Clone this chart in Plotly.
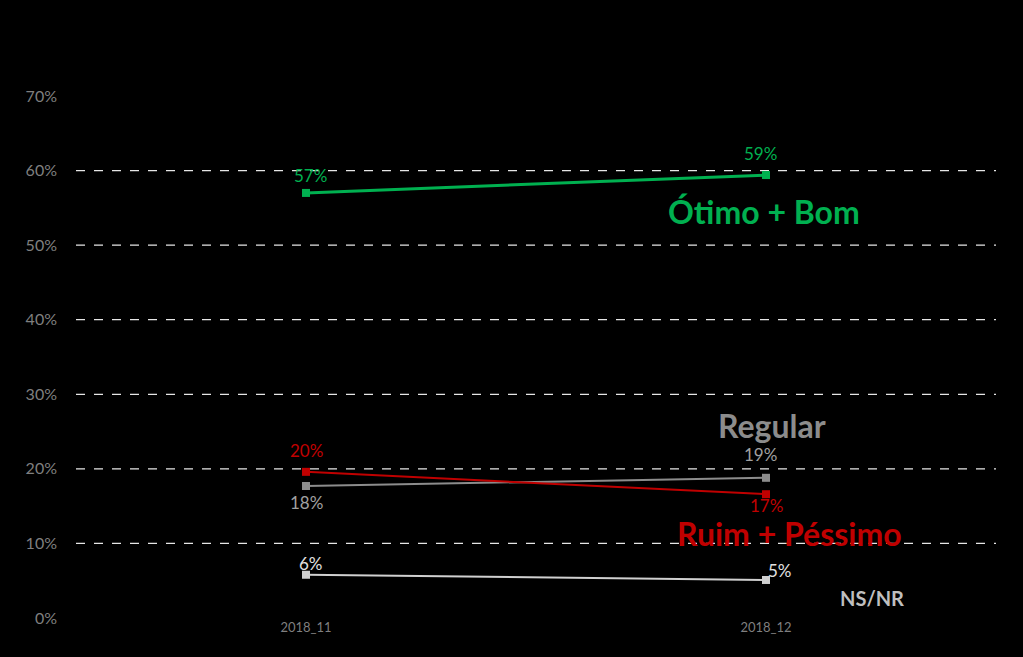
import plotly.graph_objects as go

categories = ["2018_11", "2018_12"]
otimo_bom = [57.0, 59.4]
ruim_pessimo = [19.6, 16.6]
regular = [17.7, 18.8]
ns_nr = [5.8, 5.1]
y_ticks = [0, 10, 20, 30, 40, 50, 60, 70]
grid_vals = [10, 20, 30, 40, 50, 60]

FONT = "Lato"
GREEN = "#00B050"
RED = "#C00000"
GRAY = "#8C8C8C"
LGRAY = "#D0D0D0"

fig = go.Figure()

series = [
    ("Regular", regular, GRAY, 2),
    ("NS/NR", ns_nr, LGRAY, 2),
    ("Ruim + Péssimo", ruim_pessimo, RED, 2),
    ("Ótimo + Bom", otimo_bom, GREEN, 3),
]
for name, vals, col, w in series:
    fig.add_trace(go.Scatter(
        x=categories, y=vals, mode="lines+markers", name=name,
        line=dict(color=col, width=w),
        marker=dict(symbol="square", size=8, color=col),
        showlegend=False, hoverinfo="skip"))

# data labels: (series values, color, per-point (yshift, xshift))
label_specs = [
    (otimo_bom, GREEN, [(17, 4), (22, -6)]),
    (ruim_pessimo, RED, [(21, 0), (-11, 0)]),
    (regular, "#A0A0A0", [(-16, 0), (23, -6)]),
    (ns_nr, "#E0E0E0", [(11, 5), (9, 14)]),
]
anns = []
for vals, col, shifts in label_specs:
    for cat, v, (ys, xs) in zip(categories, vals, shifts):
        anns.append(dict(x=cat, y=v, xref="x", yref="y", text=f"{round(v)}%",
                         showarrow=False, yshift=ys, xshift=xs, borderpad=0,
                         font=dict(family=FONT, size=17, color=col)))

# series name labels
name_specs = [
    ("Ótimo + Bom", 0.995, 54.5, GREEN, 32),
    ("Regular", 1.013, 25.8, GRAY, 32),
    ("Ruim + Péssimo", 1.05, 11.3, RED, 32),
    ("NS/NR", 1.23, 2.7, "#BFBFBF", 20),
]
for txt, xv, yv, col, sz in name_specs:
    anns.append(dict(x=xv, y=yv, xref="x", yref="y", text=f"<b>{txt}</b>",
                     showarrow=False, borderpad=0,
                     font=dict(family=FONT, size=sz, color=col)))

shapes = []
for g in grid_vals:
    shapes.append(dict(type="line", xref="paper", yref="y", x0=0, x1=1, y0=g, y1=g,
                       line=dict(color="#E6E6E6", width=1.3, dash="dash"), layer="below"))

fig.update_layout(
    width=1023, height=657,
    paper_bgcolor="black", plot_bgcolor="black",
    margin=dict(l=76, r=27, t=96, b=39),
    annotations=anns, shapes=shapes,
    xaxis=dict(type="category", range=[-0.5, 1.5], showgrid=False, zeroline=False,
               showline=False, ticks="",
               tickfont=dict(family=FONT, size=13, color="#7F7F7F")),
    yaxis=dict(range=[0, 70], tickvals=y_ticks,
               ticktext=[f"{t}%" for t in y_ticks],
               showgrid=False, zeroline=False, showline=False,
               ticklabelstandoff=18,
               tickfont=dict(family=FONT, size=16, color="#7F7F7F")),
)

fig.write_html("out.html")
